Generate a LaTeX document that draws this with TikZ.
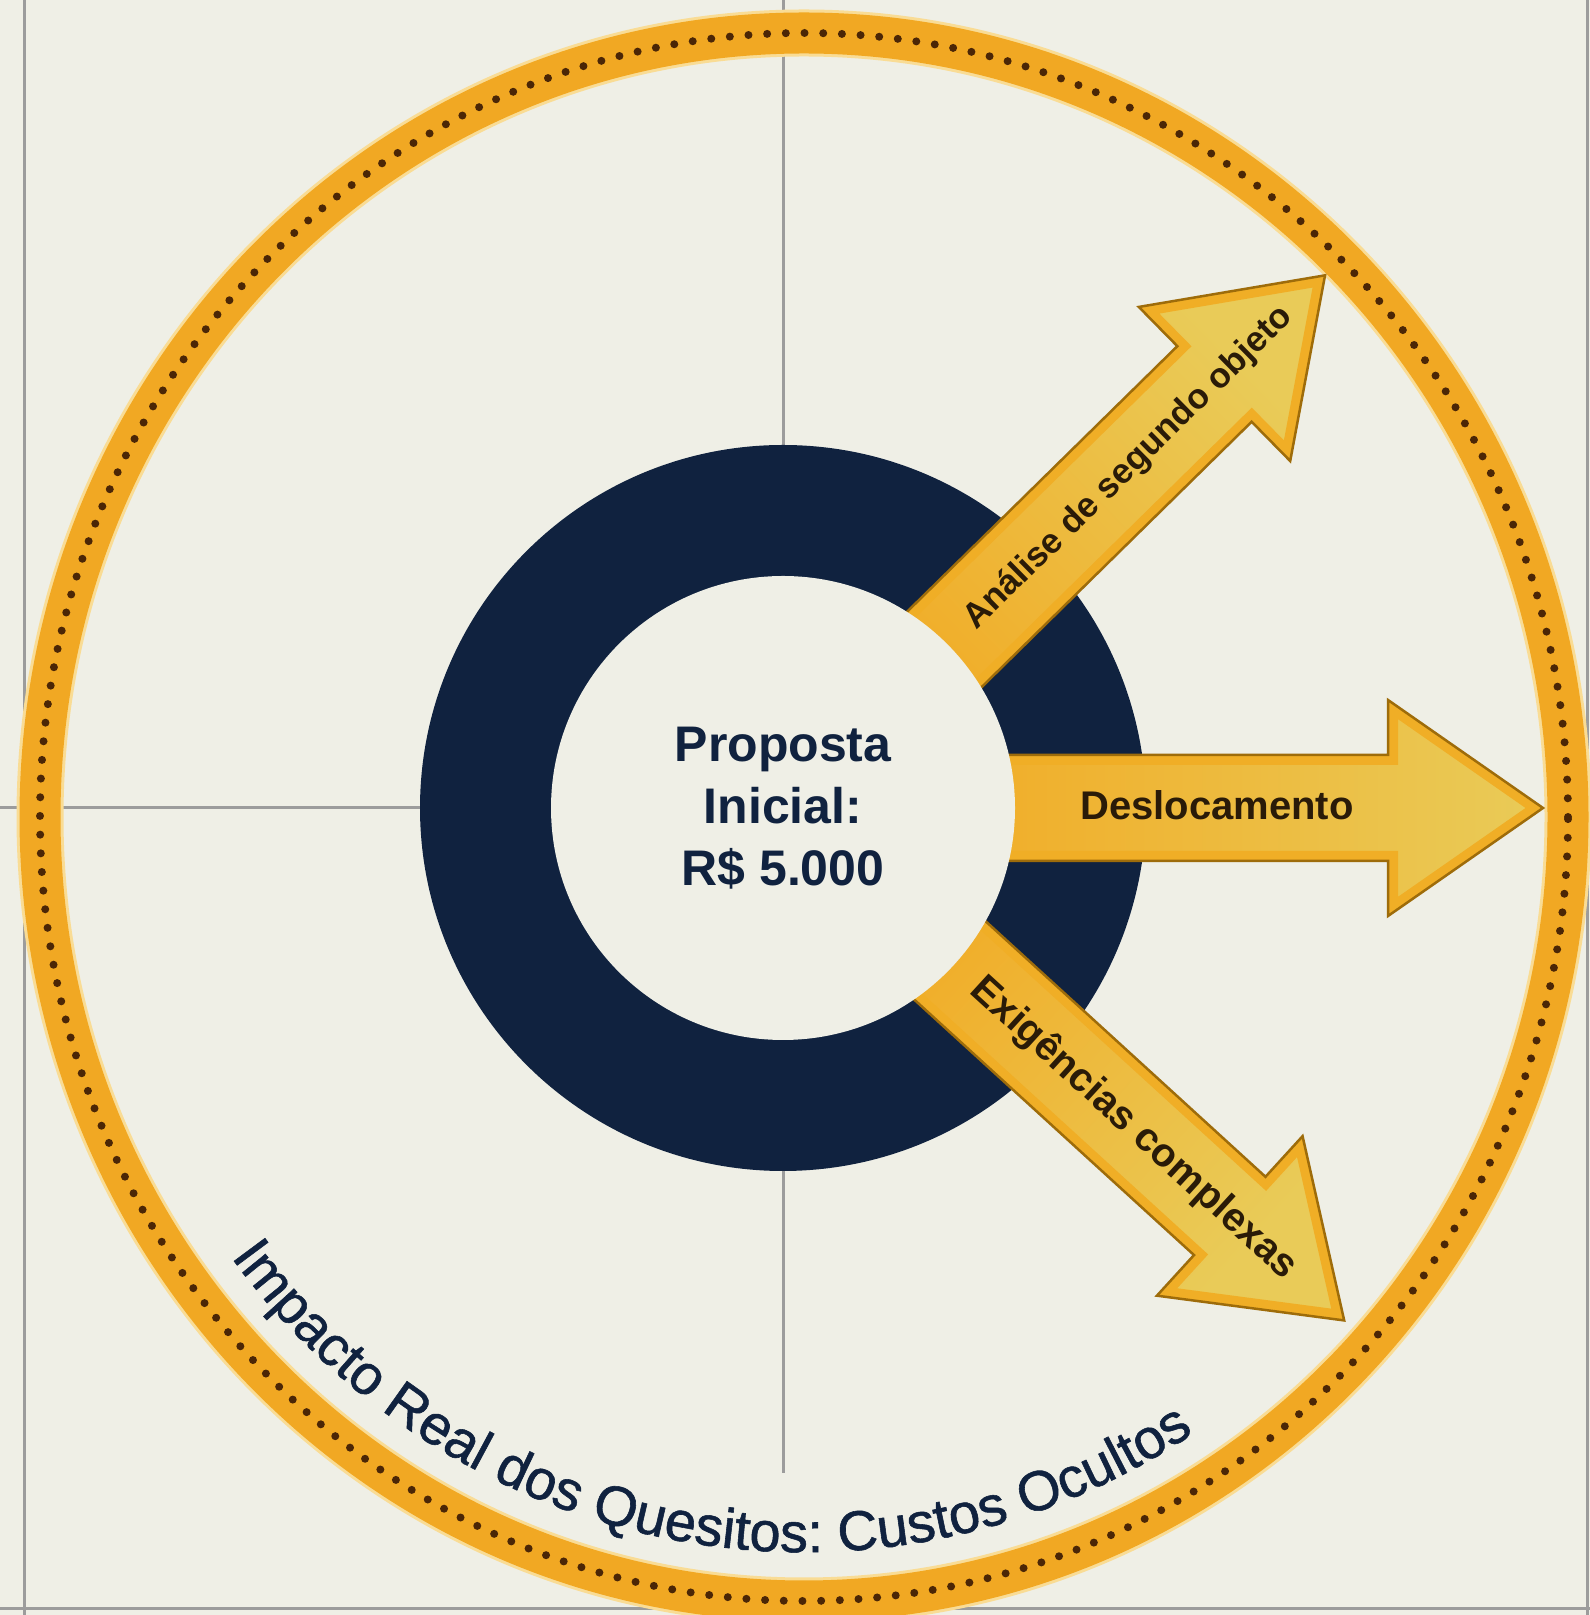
\documentclass[tikz,border=0pt]{standalone}
\usepackage{fontspec}
\setmainfont{Liberation Sans}
\usepackage{tikz}
\usetikzlibrary{decorations.text}

\definecolor{bgcream}{HTML}{EFEFE6}
\definecolor{gridgray}{HTML}{9C9C9C}
\definecolor{navy}{HTML}{10223F}
\definecolor{ringorange}{HTML}{F1A823}
\definecolor{ringedge}{HTML}{F9DC95}
\definecolor{dotbrown}{HTML}{4B2606}
\definecolor{arrowtail}{HTML}{F3A41A}
\definecolor{arrowhead}{HTML}{E9CB58}
\definecolor{arrowband}{HTML}{F0AE26}
\definecolor{arrowedge}{HTML}{9E6C0A}
\definecolor{labelink}{HTML}{2A1B08}

\newcommand{\arrowshape}{(0,-53) -- (605,-53) -- (605,-108) -- (760,0) -- (605,108) -- (605,53) -- (0,53) -- cycle}

\begin{document}
\begin{tikzpicture}[x=1pt, y=1pt,
		gridline/.style={draw=gridgray, line width=3pt},
		arrowlabel/.style={font=\bfseries\fontsize{#1}{#1}\selectfont, text=labelink},
		ringpath/.style={line width=#1}]
		\useasboundingbox[fill=bgcream] (0,0) rectangle (1590,1615);
		\coordinate (C) at (783,807);
		\coordinate (E) at (804,798);
		\draw[gridline] (24,0) -- (24,1615);
		\draw[gridline] (1587,0) -- (1587,1615);
		\draw[gridline] (0,6) -- (1590,6);
		\draw[gridline] (783,1615) -- (783,142);
		\draw[gridline] (0,807) -- (C);
		\draw[ringedge, ringpath=47pt] (E) ellipse [x radius=764, y radius=784];
		\draw[ringorange, ringpath=41pt] (E) ellipse [x radius=764, y radius=784];
		\draw[dotbrown, ringpath=8pt, line cap=round, dash pattern=on 0pt off 18.7pt] (E) ellipse [x radius=764, y radius=784];
		\fill[navy] (C) circle [radius=363];
		\foreach \ang/\sh in {44.5/134.5, 0/90, -42.4/47.6}{
			\begin{scope}[shift={(C)}, rotate=\ang]
				\shade[left color=arrowtail, right color=arrowhead, shading angle=\sh] \arrowshape;
				\begin{scope}
					\clip \arrowshape;
					\draw[arrowband, line width=20pt, line join=miter] \arrowshape;
				\end{scope}
				\draw[arrowedge, line width=2.5pt, line join=miter] \arrowshape;
			\end{scope}
		}
		\fill[bgcream] (C) circle [radius=232];
		\node[font=\bfseries\fontsize{50}{62}\selectfont, text=navy, align=center] (prop) at (C) {Proposta\\Inicial:\\R\$ 5.000};
		\node[arrowlabel=40] (desl) at (1217,810) {Deslocamento};
		\node[arrowlabel=35, rotate=44.5] (anal) at ([shift={(44.5:485)}]C) {Análise de segundo objeto};
		\node[arrowlabel=40, rotate=-42.4] (exig) at ([shift={(-42.4:475)}]C) {Exigências complexas};
		\path[decorate, decoration={text along path, text align=center,
			text={|\color{navy}\fontsize{56}{60}\selectfont\addfontfeatures{FakeBold=1}|Impacto Real dos Quesitos: Custos Ocultos}}]
			([shift={(200:715 and 735)}]E) arc [start angle=200, end angle=320, x radius=715, y radius=735];
\end{tikzpicture}
\end{document}
